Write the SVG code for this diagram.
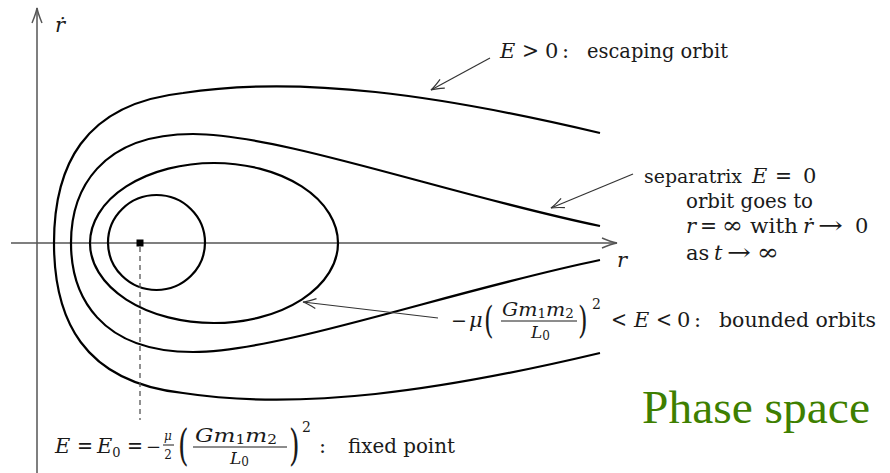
<svg xmlns="http://www.w3.org/2000/svg" width="890" height="473" viewBox="0 0 890 473">
<style>
.lbx{font-size:21px;fill:#1a1a1a}
.itx{font-style:italic}
.numx{font-size:18px}
.denx{font-size:17px}
.subx{font-size:12px;font-style:normal}
.sym{font-size:23px}
.curve{fill:none;stroke:#000;stroke-width:2.2}
.axis{fill:none;stroke:#555;stroke-width:1.5}
.ann{fill:none;stroke:#333;stroke-width:1.2}
.bar{stroke:#1a1a1a;stroke-width:1}
</style>
<defs>
<marker id="ahA" markerUnits="userSpaceOnUse" markerWidth="30" markerHeight="30" refX="0" refY="0" orient="auto" viewBox="-15 -15 30 30" style="overflow:visible">
<path d="M -15,-5 Q -6,-1.2 0,0 Q -6,1.2 -15,5" fill="none" stroke="#555" stroke-width="1.4"/>
</marker>
<marker id="ahN" markerUnits="userSpaceOnUse" markerWidth="30" markerHeight="30" refX="0" refY="0" orient="auto" viewBox="-15 -15 30 30" style="overflow:visible">
<path d="M -13,-5 Q -5,-1.2 0,0 Q -5,1.2 -13,5" fill="none" stroke="#333" stroke-width="1.2"/>
</marker>
</defs>
<rect width="890" height="473" fill="#fff"/>

<g id="axes" font-family="DejaVu Serif, serif">
<line class="axis" x1="37" y1="473" x2="37" y2="8" marker-end="url(#ahA)"/>
<line class="axis" x1="11" y1="243" x2="617" y2="243" marker-end="url(#ahA)"/>
<text class="lbx itx" x="55" y="32">ṙ</text>
<text class="lbx itx" x="617" y="267">r</text>
</g>

<g id="orbit-escaping">
<path class="curve" d="M 600,133 C 440,95 300,75 183,93 C 82,104 54,168 54,243 C 54,318 82,382 183,393 C 300,411 440,391 600,353"/>
</g>
<g id="orbit-separatrix">
<path class="curve" d="M 600,226 C 450,195 280,134 193,134 C 100,134 71,190 71,243 C 71,296 100,352 193,352 C 280,352 450,291 600,260"/>
</g>
<g id="orbit-bounded">
<ellipse class="curve" cx="214" cy="243" rx="124" ry="80"/>
</g>
<g id="orbit-inner">
<ellipse class="curve" cx="156.5" cy="242.5" rx="48.5" ry="47.5"/>
</g>
<g id="fixed-point">
<rect x="136.5" y="239.5" width="7" height="7" fill="#000"/>
</g>

<g id="connectors">
<line class="ann" x1="490" y1="58" x2="431" y2="90" marker-end="url(#ahN)"/>
<line class="ann" x1="633" y1="174" x2="551" y2="208" marker-end="url(#ahN)"/>
<line class="ann" x1="438" y1="318" x2="303" y2="302" marker-end="url(#ahN)"/>
<line x1="140" y1="247" x2="140" y2="420" stroke="#555" stroke-width="1.3" stroke-dasharray="5,4"/>
</g>

<g id="label-escaping" font-family="DejaVu Serif, serif">
<text class="lbx itx" x="500" y="58">E</text>
<text class="lbx sym" x="522" y="58" textLength="17" lengthAdjust="spacingAndGlyphs">&gt;</text>
<text class="lbx" x="545" y="58">0</text>
<text class="lbx" x="562" y="58">:</text>
<text class="lbx" x="587" y="58" textLength="141" lengthAdjust="spacingAndGlyphs">escaping orbit</text>
</g>

<g id="label-separatrix" font-family="DejaVu Serif, serif">
<text class="lbx" x="644" y="183" textLength="98" lengthAdjust="spacingAndGlyphs" style="font-size:19px">separatrix</text>
<text class="lbx itx" x="752" y="183">E</text>
<text class="lbx sym" x="775" y="183" textLength="17" lengthAdjust="spacingAndGlyphs">=</text>
<text class="lbx" x="803" y="183">0</text>
<text class="lbx" x="686" y="208" textLength="127" lengthAdjust="spacingAndGlyphs">orbit goes to</text>
<text class="lbx itx" x="686" y="233">r</text>
<text class="lbx sym" x="700" y="233" textLength="17" lengthAdjust="spacingAndGlyphs">=</text>
<text class="lbx sym" x="722" y="233" textLength="21" lengthAdjust="spacingAndGlyphs">∞</text>
<text class="lbx" x="750" y="233" textLength="48" lengthAdjust="spacingAndGlyphs">with</text>
<text class="lbx itx" x="803" y="233">ṙ</text>
<text class="lbx sym" x="818" y="233" textLength="25" lengthAdjust="spacingAndGlyphs">→</text>
<text class="lbx" x="855" y="233">0</text>
<text class="lbx" x="686" y="260">as</text>
<text class="lbx itx" x="714" y="260">t</text>
<text class="lbx sym" x="727" y="260" textLength="24" lengthAdjust="spacingAndGlyphs">→</text>
<text class="lbx sym" x="757" y="260" textLength="22" lengthAdjust="spacingAndGlyphs">∞</text>
</g>

<g id="label-bounded" font-family="DejaVu Serif, serif">
<text class="lbx" x="451" y="327" style="font-size:19px">−</text>
<text class="lbx itx" x="469" y="327">μ</text>
<text class="lbx" transform="translate(484,333) scale(0.65,1)" style="font-size:38px">(</text>
<text class="lbx itx numx" x="502" y="316" textLength="72" lengthAdjust="spacingAndGlyphs">Gm<tspan class="subx" dy="2">1</tspan><tspan dy="-2">m</tspan><tspan class="subx" dy="2">2</tspan></text>
<line class="bar" x1="501" y1="321" x2="577" y2="321"/>
<text class="lbx itx denx" x="531" y="338">L<tspan class="subx" dy="2">0</tspan></text>
<text class="lbx" transform="translate(578,333) scale(0.65,1)" style="font-size:38px">)</text>
<text class="lbx" x="592" y="309" style="font-size:14px">2</text>
<text class="lbx sym" x="611" y="327" textLength="16" lengthAdjust="spacingAndGlyphs">&lt;</text>
<text class="lbx itx" x="634" y="327">E</text>
<text class="lbx sym" x="656" y="327" textLength="16" lengthAdjust="spacingAndGlyphs">&lt;</text>
<text class="lbx" x="677" y="327">0</text>
<text class="lbx" x="694" y="327">:</text>
<text class="lbx" x="719" y="327" textLength="157" lengthAdjust="spacingAndGlyphs">bounded orbits</text>
</g>

<g id="label-fixed-point" font-family="DejaVu Serif, serif">
<text class="lbx itx" x="55" y="453">E</text>
<text class="lbx sym" x="77" y="453" textLength="16" lengthAdjust="spacingAndGlyphs">=</text>
<text class="lbx itx" x="97" y="453">E<tspan class="subx" dy="4" style="font-size:13px">0</tspan></text>
<text class="lbx sym" x="127" y="453" textLength="16" lengthAdjust="spacingAndGlyphs">=</text>
<text class="lbx" x="146" y="453" style="font-size:18px">−</text>
<text class="lbx itx" x="168" y="440" text-anchor="middle" style="font-size:12px">μ</text>
<line class="bar" x1="163" y1="445" x2="174" y2="445"/>
<text class="lbx" x="168" y="459" text-anchor="middle" style="font-size:12px">2</text>
<text class="lbx" transform="translate(178,460) scale(0.65,1)" style="font-size:42px">(</text>
<text class="lbx itx numx" x="195" y="442" textLength="82" lengthAdjust="spacingAndGlyphs">Gm<tspan class="subx" dy="2">1</tspan><tspan dy="-2">m</tspan><tspan class="subx" dy="2">2</tspan></text>
<line class="bar" x1="193" y1="447" x2="287" y2="447"/>
<text class="lbx itx denx" x="230" y="464">L<tspan class="subx" dy="2">0</tspan></text>
<text class="lbx" transform="translate(289,460) scale(0.65,1)" style="font-size:42px">)</text>
<text class="lbx" x="302" y="432" style="font-size:14px">2</text>
<text class="lbx" x="319" y="453">:</text>
<text class="lbx" x="348" y="453" textLength="107" lengthAdjust="spacingAndGlyphs">fixed point</text>
</g>

<g id="title">
<text x="642" y="423" textLength="228" lengthAdjust="spacingAndGlyphs" font-family="Liberation Serif, serif" style="font-size:47px;fill:#3e7f00">Phase space</text>
</g>
</svg>
